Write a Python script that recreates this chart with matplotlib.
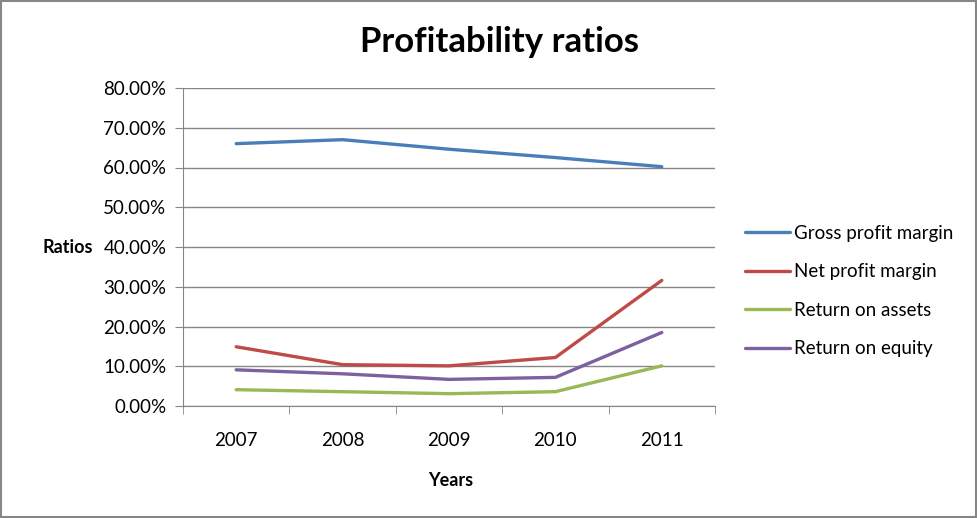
import numpy as np
import matplotlib.pyplot as plt
from matplotlib.ticker import PercentFormatter

years = ['2007', '2008', '2009', '2010', '2011']
gross_margin = [66.0, 67.0, 64.6, 62.5, 60.2]
net_margin = [14.9, 10.4, 10.1, 12.2, 31.6]
roa = [4.1, 3.6, 3.1, 3.6, 10.1]
roe = [9.1, 8.1, 6.7, 7.2, 18.5]

plt.rcParams['font.family'] = ['Lato', 'DejaVu Sans']

fig = plt.figure(figsize=(9.78, 5.18), dpi=100)
ax = fig.add_axes([183/978, 1 - 406/518, (715 - 183)/978, (406 - 88)/518])

x = np.arange(len(years))
ax.plot(x, gross_margin, color='#4a7ebb', lw=2.4, label='Gross profit margin', solid_capstyle='round')
ax.plot(x, net_margin, color='#be4b48', lw=2.4, label='Net profit margin', solid_capstyle='round')
ax.plot(x, roa, color='#98b954', lw=2.4, label='Return on assets', solid_capstyle='round')
ax.plot(x, roe, color='#7d60a0', lw=2.4, label='Return on equity', solid_capstyle='round')

ax.set_xlim(-0.5, 4.5)
ax.set_ylim(0, 80)
ax.set_yticks(np.arange(0, 81, 10))
ax.yaxis.set_major_formatter(PercentFormatter(decimals=2))
ax.set_xticks(x)
ax.set_xticklabels(years)
ax.set_xticks(np.arange(-0.5, 5, 1), minor=True)
ax.tick_params(axis='x', which='major', length=0, pad=19, labelsize=13.5)
ax.tick_params(axis='x', which='minor', length=6, color='#868686', direction='out')
ax.tick_params(axis='y', length=6, color='#868686', labelsize=13.5, pad=6)

ax.grid(axis='y', color='#868686', lw=1)
ax.set_axisbelow(True)
for s in ['top', 'right']:
    ax.spines[s].set_visible(False)
for s in ['left', 'bottom']:
    ax.spines[s].set_color('#868686')

fig.text(500/978, 1 - 42/518, 'Profitability ratios', fontsize=25, fontweight='bold',
         ha='center', va='center')
fig.text(451/978, 1 - 481/518, 'Years', fontsize=13, fontweight='bold', ha='center', va='center')
fig.text(68/978, 1 - 248/518, 'Ratios', fontsize=13, fontweight='bold', ha='center', va='center')

ax.legend(loc='center left', bbox_to_anchor=(745/978, 1 - 291/518), bbox_transform=fig.transFigure,
          frameon=False, fontsize=13.5, handlelength=2.4, handletextpad=0.2, labelspacing=1.15,
          borderaxespad=0, borderpad=0)

fig.patches.append(plt.Rectangle((0.001, 0.002), 0.997, 0.996, transform=fig.transFigure,
                                 fill=False, edgecolor='#868686', lw=1.5))

fig.savefig('out.png', dpi=100)
